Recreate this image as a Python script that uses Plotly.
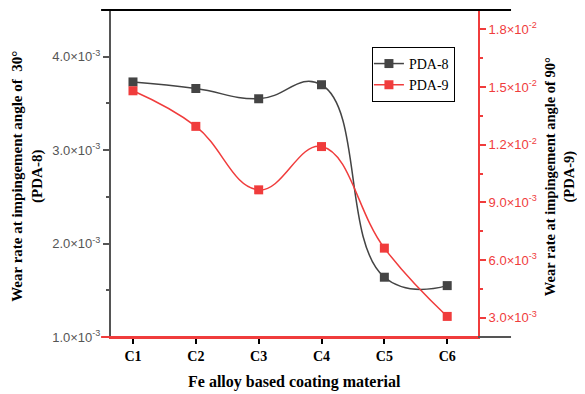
import plotly.graph_objects as go

categories = ["C1", "C2", "C3", "C4", "C5", "C6"]
pda8 = [3.73e-3, 3.66e-3, 3.55e-3, 3.70e-3, 1.64e-3, 1.55e-3]
pda9 = [14.8e-3, 12.95e-3, 9.65e-3, 11.9e-3, 6.62e-3, 3.07e-3]

left_ticks = [1e-3, 2e-3, 3e-3, 4e-3]
left_text = ["1.0×10<sup>-3</sup>", "2.0×10<sup>-3</sup>", "3.0×10<sup>-3</sup>", "4.0×10<sup>-3</sup>"]
left_minor = [1.5e-3, 2.5e-3, 3.5e-3]
right_ticks = [3e-3, 6e-3, 9e-3, 12e-3, 15e-3, 18e-3]
right_text = ["3.0×10<sup>-3</sup>", "6.0×10<sup>-3</sup>", "9.0×10<sup>-3</sup>",
              "1.2×10<sup>-2</sup>", "1.5×10<sup>-2</sup>", "1.8×10<sup>-2</sup>"]
right_minor = [4.5e-3, 7.5e-3, 10.5e-3, 13.5e-3, 16.5e-3]

GRAY = "#444444"
RED = "#f03c3c"
serif = "Liberation Serif"
sans = "Liberation Sans"

fig = go.Figure()
fig.add_trace(go.Scatter(x=categories, y=pda8, name="PDA-8", mode="lines+markers",
                         line=dict(color=GRAY, width=1.5, shape="spline", smoothing=1.3),
                         marker=dict(symbol="square", size=9, color=GRAY), yaxis="y"))
fig.add_trace(go.Scatter(x=categories, y=pda9, name="PDA-9", mode="lines+markers",
                         line=dict(color=RED, width=1.5, shape="spline", smoothing=1.2),
                         marker=dict(symbol="square", size=9, color=RED), yaxis="y2"))

fig.update_layout(
    width=577, height=386,
    margin=dict(l=103, r=107, t=2, b=57),
    plot_bgcolor="white", paper_bgcolor="white",
    showlegend=True,
    legend=dict(x=0.711, y=0.887, xanchor="left", yanchor="top",
                bgcolor="white", bordercolor="black", borderwidth=1,
                font=dict(family=serif, size=14, color="black"),
                tracegroupgap=0, itemwidth=30, indentation=-4),
    xaxis=dict(type="category", range=[-0.35, 5.49], showline=True, linecolor=RED, linewidth=2,
               ticks="outside", ticklen=5, tickcolor="black", tickwidth=1.5,
               tickfont=dict(family=serif, size=14, color="black", weight="bold"),
               showgrid=False, zeroline=False, automargin=False),
    yaxis=dict(range=[1.0e-3, 4.5e-3], showline=True, linecolor="#555555", linewidth=2,
               ticks="outside", ticklen=6, tickcolor="#555555", tickwidth=1.5,
               tickmode="array", tickvals=left_ticks, ticktext=left_text,
               minor=dict(tickmode="array", tickvals=left_minor, ticks="outside", ticklen=3,
                          tickcolor="#555555", tickwidth=1.5),
               tickfont=dict(family=sans, size=13, color="#555555"),
               showgrid=False, zeroline=False, automargin=False),
    yaxis2=dict(range=[2.0e-3, 19.0e-3], overlaying="y", side="right", showline=True,
                linecolor=RED, linewidth=2,
                ticks="outside", ticklen=6, tickcolor=RED, tickwidth=1.5,
                tickmode="array", tickvals=right_ticks, ticktext=right_text,
                minor=dict(tickmode="array", tickvals=right_minor, ticks="outside", ticklen=3,
                           tickcolor=RED, tickwidth=1.5),
                tickfont=dict(family=sans, size=13, color=RED),
                showgrid=False, zeroline=False, automargin=False),
    annotations=[
        dict(text="<b>Fe alloy based coating material</b>", xref="paper", yref="paper",
             x=0.5, y=-0.138, xanchor="center", yanchor="middle", showarrow=False,
             font=dict(family=serif, size=16, color="black")),
        dict(text="<b>Wear rate at impingement angle of  30°<br>(PDA-8)</b>", xref="paper", yref="paper",
             x=-0.226, y=0.49, xanchor="center", yanchor="middle", showarrow=False, textangle=-90,
             font=dict(family=serif, size=15, color="black")),
        dict(text="<b>Wear rate at impingement angle of 90°<br>(PDA-9)</b>", xref="paper", yref="paper",
             x=1.222, y=0.49, xanchor="center", yanchor="middle", showarrow=False, textangle=-90,
             font=dict(family=serif, size=14.5, color="black")),
    ],
    shapes=[
        dict(type="line", xref="paper", yref="paper", x0=-0.027, x1=1.09, y0=1, y1=1,
             line=dict(color="black", width=2)),
        dict(type="line", xref="paper", yref="paper", x0=-0.027, x1=1.0, y0=0, y1=0,
             line=dict(color=RED, width=2)),
        dict(type="line", xref="paper", yref="paper", x0=1.0, x1=1.09, y0=0, y1=0,
             line=dict(color="#555555", width=2)),
    ],
)

fig.write_html("out.html")
